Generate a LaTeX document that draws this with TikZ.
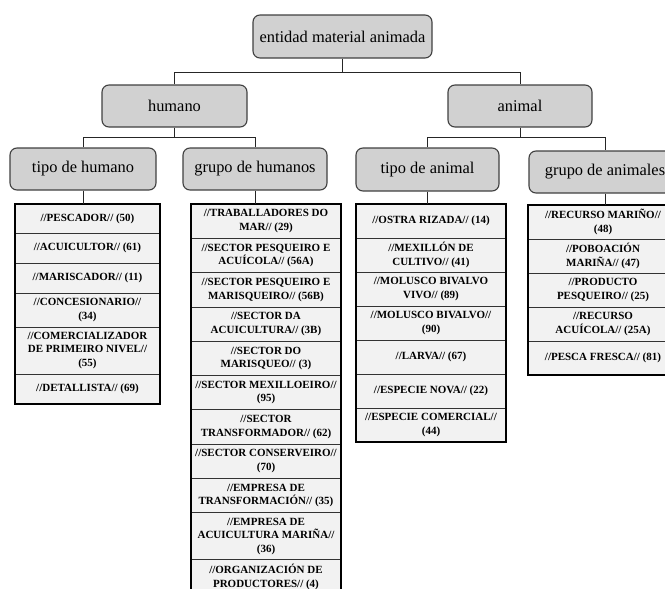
\documentclass[tikz,border=0pt]{standalone}
\usepackage{fontspec}
\setmainfont{Liberation Serif}
\begin{document}
\begin{tikzpicture}[x=1pt,y=-1pt,
  cat/.style={draw=black!75, line width=1.1pt, fill=black!18, rounded corners=7pt,
    minimum height=42pt, inner sep=0pt, font=\fontsize{16.4}{18}\selectfont},
  item/.style={draw=black!80, line width=0.8pt, fill=black!5, inner xsep=2pt, inner ysep=0pt,
    outer sep=0pt, align=center, anchor=north, font=\fontsize{11}{13.6}\selectfont\bfseries},
  frame/.style={line width=1.8pt, black},
  link/.style={line width=1pt, black!85}]
\useasboundingbox (0,0) rectangle (665,589);
\clip (0,0) rectangle (665,589);

% category boxes
\node[cat, minimum width=179pt, minimum height=43pt] (root) at (342.5,36.5) {entidad material animada};
\node[cat, minimum width=145pt] (hum) at (174.5,106) {humano};
\node[cat, minimum width=144pt] (ani) at (520,106) {animal};
\node[cat, minimum width=146pt] (tdh) at (83,169) {tipo de humano};
\node[cat, minimum width=144pt] (gdh) at (255,169) {grupo de humanos};
\node[cat, minimum width=143pt, minimum height=43pt] (tda) at (427.5,169.5) {tipo de animal};
\node[cat, minimum width=152pt] (gda) at (605,172) {grupo de animales};

% tree connectors
\draw[link] (root.south) -- ++(0,14) coordinate (b0);
\draw[link] (hum.north) |- (b0) -| (ani.north);
\draw[link] (hum.south) -- ++(0,10) coordinate (b1);
\draw[link] (tdh.north) |- (b1) -| (gdh.north);
\draw[link] (ani.south) -- ++(0,10) coordinate (b2);
\draw[link] (tda.north) |- (b2) -| (gda.north);

% list: tipo de humano
\begin{scope}[every node/.append style={minimum width=145pt}]
\node[item, minimum height=29pt] (p1) at (87.5,204) {//PESCADOR// (50)};
\node[item, minimum height=30pt] (p2) at (p1.south) {//ACUICULTOR// (61)};
\node[item, minimum height=30pt] (p3) at (p2.south) {//MARISCADOR// (11)};
\node[item, minimum height=34pt] (p4) at (p3.south) {//CONCESIONARIO//\\(34)};
\node[item, minimum height=47pt] (p5) at (p4.south) {//COMERCIALIZADOR\\DE PRIMEIRO NIVEL//\\(55)};
\node[item, minimum height=30pt] (p6) at (p5.south) {//DETALLISTA// (69)};
\end{scope}
\draw[frame] (p1.north west) rectangle (p6.south east);

% list: grupo de humanos
\begin{scope}[every node/.append style={minimum width=150pt, minimum height=34.3pt}]
\node[item] (g1) at (266,204) {//TRABALLADORES DO\\MAR// (29)};
\node[item] (g2) at (g1.south) {//SECTOR PESQUEIRO E\\ACUÍCOLA// (56A)};
\node[item] (g3) at (g2.south) {//SECTOR PESQUEIRO E\\MARISQUEIRO// (56B)};
\node[item] (g4) at (g3.south) {//SECTOR DA\\ACUICULTURA// (3B)};
\node[item] (g5) at (g4.south) {//SECTOR DO\\MARISQUEO// (3)};
\node[item] (g6) at (g5.south) {//SECTOR MEXILLOEIRO//\\(95)};
\node[item] (g7) at (g6.south) {//SECTOR\\TRANSFORMADOR// (62)};
\node[item] (g8) at (g7.south) {//SECTOR CONSERVEIRO//\\(70)};
\node[item] (g9) at (g8.south) {//EMPRESA DE\\TRANSFORMACIÓN// (35)};
\node[item, minimum height=47pt] (g10) at (g9.south) {//EMPRESA DE\\ACUICULTURA MARIÑA//\\(36)};
\node[item] (g11) at (g10.south) {//ORGANIZACIÓN DE\\PRODUCTORES// (4)};
\end{scope}
\draw[frame] (g1.north west) rectangle (g11.south east);

% list: tipo de animal
\begin{scope}[every node/.append style={minimum width=150pt, minimum height=34pt}]
\node[item] (a1) at (431,204) {//OSTRA RIZADA// (14)};
\node[item] (a2) at (a1.south) {//MEXILLÓN DE\\CULTIVO// (41)};
\node[item] (a3) at (a2.south) {//MOLUSCO BIVALVO\\VIVO// (89)};
\node[item] (a4) at (a3.south) {//MOLUSCO BIVALVO//\\(90)};
\node[item] (a5) at (a4.south) {//LARVA// (67)};
\node[item] (a6) at (a5.south) {//ESPECIE NOVA// (22)};
\node[item] (a7) at (a6.south) {//ESPECIE COMERCIAL//\\(44)};
\end{scope}
\draw[frame] (a1.north west) rectangle (a7.south east);

% list: grupo de animales
\begin{scope}[every node/.append style={minimum width=150pt, minimum height=34pt}]
\node[item] (r1) at (603,205) {//RECURSO MARIÑO//\\(48)};
\node[item] (r2) at (r1.south) {//POBOACIÓN\\MARIÑA// (47)};
\node[item] (r3) at (r2.south) {//PRODUCTO\\PESQUEIRO// (25)};
\node[item] (r4) at (r3.south) {//RECURSO\\ACUÍCOLA// (25A)};
\node[item] (r5) at (r4.south) {//PESCA FRESCA// (81)};
\end{scope}
\draw[frame] (r1.north west) rectangle (r5.south east);

% category to list connectors
\draw[link] (tdh.south) -- (tdh.south |- p1.north);
\draw[link] (gdh.south) -- (gdh.south |- g1.north);
\draw[link] (tda.south) -- (tda.south |- a1.north);
\draw[link] (gda.south) -- (gda.south |- r1.north);
\end{tikzpicture}
\end{document}
